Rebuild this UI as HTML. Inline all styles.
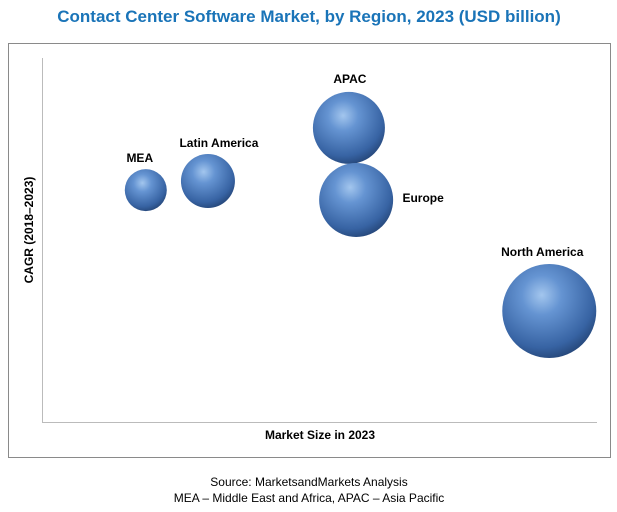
<!DOCTYPE html>
<html><head><meta charset="utf-8"><style>
body{margin:0;width:617px;height:512px;background:#fff;font-family:"Liberation Sans",sans-serif;overflow:hidden}
svg{display:block}
</style></head><body>
<svg width="617" height="512">
<defs>
<radialGradient id="g" cx="0.42" cy="0.33" r="0.7">
<stop offset="0" stop-color="#a3c6ee"/>
<stop offset="0.3" stop-color="#6594d2"/>
<stop offset="0.8" stop-color="#3763a3"/>
<stop offset="1" stop-color="#254678"/>
</radialGradient>
</defs>
<text x="309" y="22" text-anchor="middle" font-size="17" font-weight="bold" fill="#1a74b8">Contact Center Software Market, by Region, 2023 (USD billion)</text>
<rect x="8.5" y="43.5" width="602" height="414" fill="none" stroke="#8a8a8a" stroke-width="1"/>
<line x1="42.5" y1="58" x2="42.5" y2="422" stroke="#bbb"/>
<line x1="42" y1="422.5" x2="597" y2="422.5" stroke="#bbb"/>
<text x="320" y="439" text-anchor="middle" font-size="12" font-weight="bold">Market Size in 2023</text>
<text transform="translate(33,230) rotate(-90)" text-anchor="middle" font-size="12" font-weight="bold">CAGR (2018–2023)</text>
<g id="bubbles"></g>
<text x="309" y="486" text-anchor="middle" font-size="12">Source: MarketsandMarkets Analysis</text>
<text x="309" y="502" text-anchor="middle" font-size="12">MEA – Middle East and Africa, APAC – Asia Pacific</text>
</svg>
<script>
const regions=["MEA","Latin America","APAC","Europe","North America"];
const marketSize=[18.7,29.9,55.3,56.6,91.4];
const cagr=[63.7,66.2,80.8,61.0,30.5];
const bubbleSize=[21,27,36,37,47];
const labelDx=[-6,11,1,67,-7];
const labelDy=[-28,-34,-45,2,-55];
function xs(v){return 42+v*5.55;}
function ys(v){return 422-v*3.64;}
const g=document.getElementById('bubbles');
const NS="http://www.w3.org/2000/svg";
regions.forEach((r,i)=>{
 const c=document.createElementNS(NS,'circle');
 
 
 c.setAttribute('cx',xs(marketSize[i]));c.setAttribute('cy',ys(cagr[i]));c.setAttribute('r',bubbleSize[i]);
 c.setAttribute('fill','url(#g)');
 g.appendChild(c);
 const t=document.createElementNS(NS,'text');
 
 
 t.setAttribute('x',xs(marketSize[i])+labelDx[i]);t.setAttribute('y',ys(cagr[i])+labelDy[i]);
 t.setAttribute('text-anchor','middle');t.setAttribute('font-size','12');t.setAttribute('font-weight','bold');
 t.textContent=r;
 g.appendChild(t);
});
</script>
</body></html>
